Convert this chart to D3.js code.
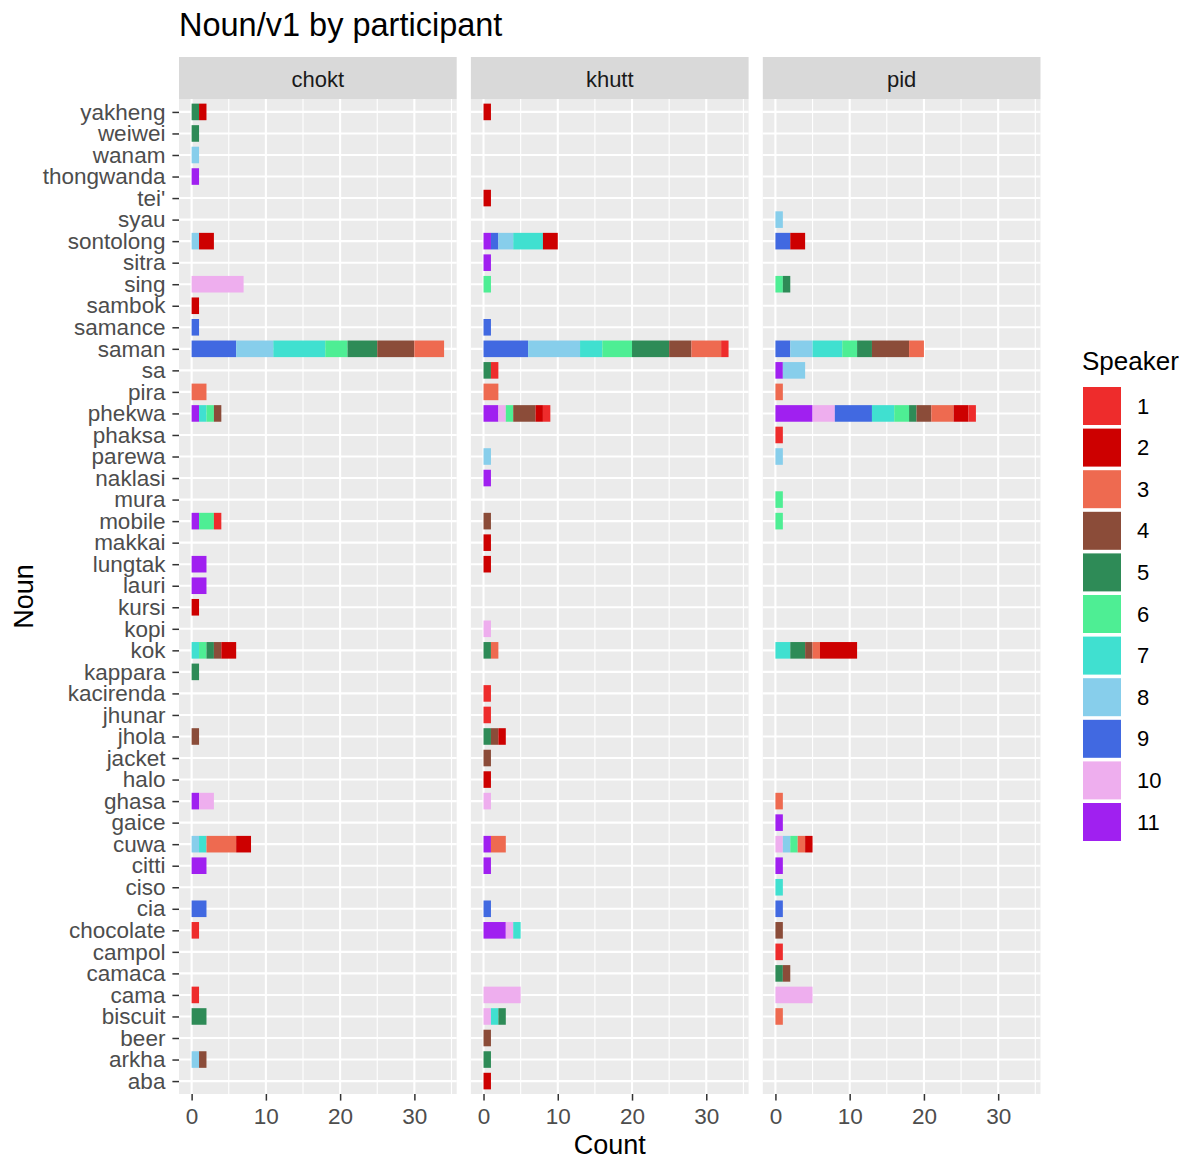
<!DOCTYPE html>
<html><head><meta charset="utf-8">
<script src="https://cdn.jsdelivr.net/npm/d3@7"></script>
<style>body{margin:0;background:#fff} text{font-family:"Liberation Sans",Arial,sans-serif}</style>
</head><body><svg id="c" width="1189" height="1160"></svg>
<script>
const nouns = ["yakheng","weiwei","wanam","thongwanda","tei'","syau","sontolong","sitra","sing","sambok","samance","saman","sa","pira","phekwa","phaksa","parewa","naklasi","mura","mobile","makkai","lungtak","lauri","kursi","kopi","kok","kappara","kacirenda","jhunar","jhola","jacket","halo","ghasa","gaice","cuwa","citti","ciso","cia","chocolate","campol","camaca","cama","biscuit","beer","arkha","aba"];
const participants = ["chokt","khutt","pid"];
const speakers = ["1","2","3","4","5","6","7","8","9","10","11"];
const speakerColors = ["#EE2C2C","#CD0000","#EE6A50","#8B4C39","#2E8B57","#4EEE94","#40E0D0","#87CEEB","#4169E1","#EEAEEE","#A020F0"];
const xTicks = [0,10,20,30];
const xMinorTicks = [5,15,25,35];

// [noun, speaker, count]
const choktCounts = [
 ["yakheng",5,1],["yakheng",2,1],["weiwei",5,1],["wanam",8,1],["thongwanda",11,1],
 ["sontolong",8,1],["sontolong",2,2],["sing",10,7],["sambok",2,1],["samance",9,1],
 ["saman",9,6],["saman",8,5],["saman",7,7],["saman",6,3],["saman",5,4],["saman",4,5],["saman",3,4],
 ["pira",3,2],["phekwa",11,1],["phekwa",7,1],["phekwa",6,1],["phekwa",4,1],
 ["mobile",11,1],["mobile",6,2],["mobile",1,1],["lungtak",11,2],["lauri",11,2],["kursi",2,1],
 ["kok",7,1],["kok",6,1],["kok",5,1],["kok",4,1],["kok",2,2],["kappara",5,1],["jhola",4,1],
 ["ghasa",11,1],["ghasa",10,2],["cuwa",8,1],["cuwa",7,1],["cuwa",3,4],["cuwa",2,2],
 ["citti",11,2],["cia",9,2],["chocolate",1,1],["cama",1,1],["biscuit",5,2],["arkha",8,1],["arkha",4,1]
];
const khuttCounts = [
 ["yakheng",2,1],["tei'",2,1],["sontolong",11,1],["sontolong",9,1],["sontolong",8,2],["sontolong",7,4],["sontolong",2,2],
 ["sitra",11,1],["sing",6,1],["samance",9,1],
 ["saman",9,6],["saman",8,7],["saman",7,3],["saman",6,4],["saman",5,5],["saman",4,3],["saman",3,4],["saman",1,1],
 ["sa",5,1],["sa",1,1],["pira",3,2],
 ["phekwa",11,2],["phekwa",10,1],["phekwa",6,1],["phekwa",4,3],["phekwa",2,1],["phekwa",1,1],
 ["parewa",8,1],["naklasi",11,1],["mobile",4,1],["makkai",2,1],["lungtak",2,1],["kopi",10,1],
 ["kok",5,1],["kok",3,1],["kacirenda",1,1],["jhunar",1,1],["jhola",5,1],["jhola",4,1],["jhola",2,1],
 ["jacket",4,1],["halo",2,1],["ghasa",10,1],["cuwa",11,1],["cuwa",3,2],["citti",11,1],["cia",9,1],
 ["chocolate",11,3],["chocolate",10,1],["chocolate",7,1],["cama",10,5],
 ["biscuit",10,1],["biscuit",7,1],["biscuit",5,1],["beer",4,1],["arkha",5,1],["aba",2,1]
];
const pidCounts = [
 ["syau",8,1],["sontolong",9,2],["sontolong",2,2],["sing",6,1],["sing",5,1],
 ["saman",9,2],["saman",8,3],["saman",7,4],["saman",6,2],["saman",5,2],["saman",4,5],["saman",3,2],
 ["sa",11,1],["sa",8,3],["pira",3,1],
 ["phekwa",11,5],["phekwa",10,3],["phekwa",9,5],["phekwa",7,3],["phekwa",6,2],["phekwa",5,1],["phekwa",4,2],["phekwa",3,3],["phekwa",2,2],["phekwa",1,1],
 ["phaksa",1,1],["parewa",8,1],["mura",6,1],["mobile",6,1],
 ["kok",7,2],["kok",5,2],["kok",4,1],["kok",3,1],["kok",2,5],
 ["ghasa",3,1],["gaice",11,1],["cuwa",10,1],["cuwa",8,1],["cuwa",6,1],["cuwa",3,1],["cuwa",2,1],
 ["citti",11,1],["ciso",7,1],["cia",9,1],["chocolate",4,1],["campol",1,1],["camaca",5,1],["camaca",4,1],
 ["cama",10,5],["biscuit",3,1]
];
const countsByParticipant = {chokt: choktCounts, khutt: khuttCounts, pid: pidCounts};

const svg = d3.select("#c");
svg.append("rect").attr("width",1189).attr("height",1160).attr("fill","#fff");

const panelLeft = 179, panelW = 277.7, gap = 14.2, panelTop = 99, panelBottom = 1094;
const stripTop = 57;
const FONT = "Liberation Sans, Arial, sans-serif";

function stackRows(rows){
  const byNoun = d3.group(rows, d => d[0]);
  const out = [];
  for (const [noun, arr] of byNoun){
    const sorted = arr.slice().sort((a,b)=>b[1]-a[1]);
    let acc = 0;
    for (const r of sorted){ out.push({noun, speaker:r[1], x0:acc, x1:acc+r[2]}); acc += r[2]; }
  }
  return out;
}
const stacks = {};
participants.forEach(p => stacks[p] = stackRows(countsByParticipant[p]));
const maxTotal = d3.max(participants, p => d3.max(stacks[p], d => d.x1));
const xDomain = [-0.05*maxTotal, maxTotal*1.05];

const y = d3.scalePoint().domain(nouns).range([panelTop, panelBottom]).padding(0.6);
const barH = y.step()*0.77;
const color = d3.scaleOrdinal().domain(speakers).range(speakerColors);

participants.forEach((p,i) => {
  const px = panelLeft + i*(panelW+gap);
  const x = d3.scaleLinear().domain(xDomain).range([px, px+panelW]);
  const g = svg.append("g");
  g.append("rect").attr("x",px).attr("y",stripTop).attr("width",panelW).attr("height",panelTop-stripTop).attr("fill","#D9D9D9");
  g.append("text").attr("x",px+panelW/2).attr("y",(stripTop+panelTop)/2+1).attr("text-anchor","middle")
    .attr("dominant-baseline","central").attr("font-size",22).attr("fill","#1A1A1A").text(p);
  g.append("rect").attr("x",px).attr("y",panelTop).attr("width",panelW).attr("height",panelBottom-panelTop).attr("fill","#EBEBEB");
  g.selectAll(".minor").data(xMinorTicks.filter(t=>t<=xDomain[1])).join("line")
    .attr("x1",d=>x(d)).attr("x2",d=>x(d)).attr("y1",panelTop).attr("y2",panelBottom)
    .attr("stroke","#fff").attr("stroke-width",1.1);
  g.selectAll(".majorx").data(xTicks).join("line")
    .attr("x1",d=>x(d)).attr("x2",d=>x(d)).attr("y1",panelTop).attr("y2",panelBottom)
    .attr("stroke","#fff").attr("stroke-width",2.1);
  g.selectAll(".majory").data(nouns).join("line")
    .attr("x1",px).attr("x2",px+panelW).attr("y1",d=>y(d)).attr("y2",d=>y(d))
    .attr("stroke","#fff").attr("stroke-width",2.1);
  g.selectAll(".bar").data(stacks[p]).join("rect")
    .attr("x",d=>x(d.x0)).attr("width",d=>x(d.x1)-x(d.x0))
    .attr("y",d=>y(d.noun)-barH/2).attr("height",barH)
    .attr("fill",d=>color(String(d.speaker)));
  const ax = svg.append("g").attr("transform",`translate(0,${panelBottom})`)
    .call(d3.axisBottom(x).tickValues(xTicks).tickSize(6.6).tickPadding(7));
  ax.select(".domain").remove();
  ax.selectAll(".tick line").attr("stroke","#333333").attr("stroke-width",1.5);
  ax.selectAll(".tick text").attr("font-size",22.5).attr("fill","#4D4D4D").attr("font-family",FONT);
});

const ay = svg.append("g").attr("transform",`translate(${panelLeft},0)`)
  .call(d3.axisLeft(y).tickSize(6.6).tickPadding(7));
ay.select(".domain").remove();
ay.selectAll(".tick line").attr("stroke","#333333").attr("stroke-width",1.5);
ay.selectAll(".tick text").attr("font-size",22.5).attr("fill","#4D4D4D").attr("font-family",FONT);

svg.append("text").attr("x",179).attr("y",36).attr("font-size",32.5).attr("fill","#000").text("Noun/v1 by participant");
const totalW = 3*panelW + 2*gap;
svg.append("text").attr("x",panelLeft+totalW/2).attr("y",1154).attr("text-anchor","middle").attr("font-size",27).attr("fill","#000").text("Count");
svg.append("text").attr("transform",`translate(33,${(panelTop+panelBottom)/2}) rotate(-90)`).attr("text-anchor","middle").attr("font-size",27).attr("fill","#000").text("Noun");

const lg = svg.append("g");
lg.append("text").attr("x",1082).attr("y",370).attr("font-size",26).attr("fill","#000").text("Speaker");
const keyY0 = 387, keyStep = 41.6, keyS = 38;
lg.selectAll(".key").data(speakers).join("rect")
  .attr("x",1083).attr("y",(d,i)=>keyY0+i*keyStep).attr("width",keyS).attr("height",keyS)
  .attr("fill",d=>color(d));
lg.selectAll(".klab").data(speakers).join("text")
  .attr("x",1137).attr("y",(d,i)=>keyY0+i*keyStep+keyS/2).attr("dominant-baseline","central")
  .attr("font-size",22).attr("fill","#000").text(d=>d);
</script></body></html>
